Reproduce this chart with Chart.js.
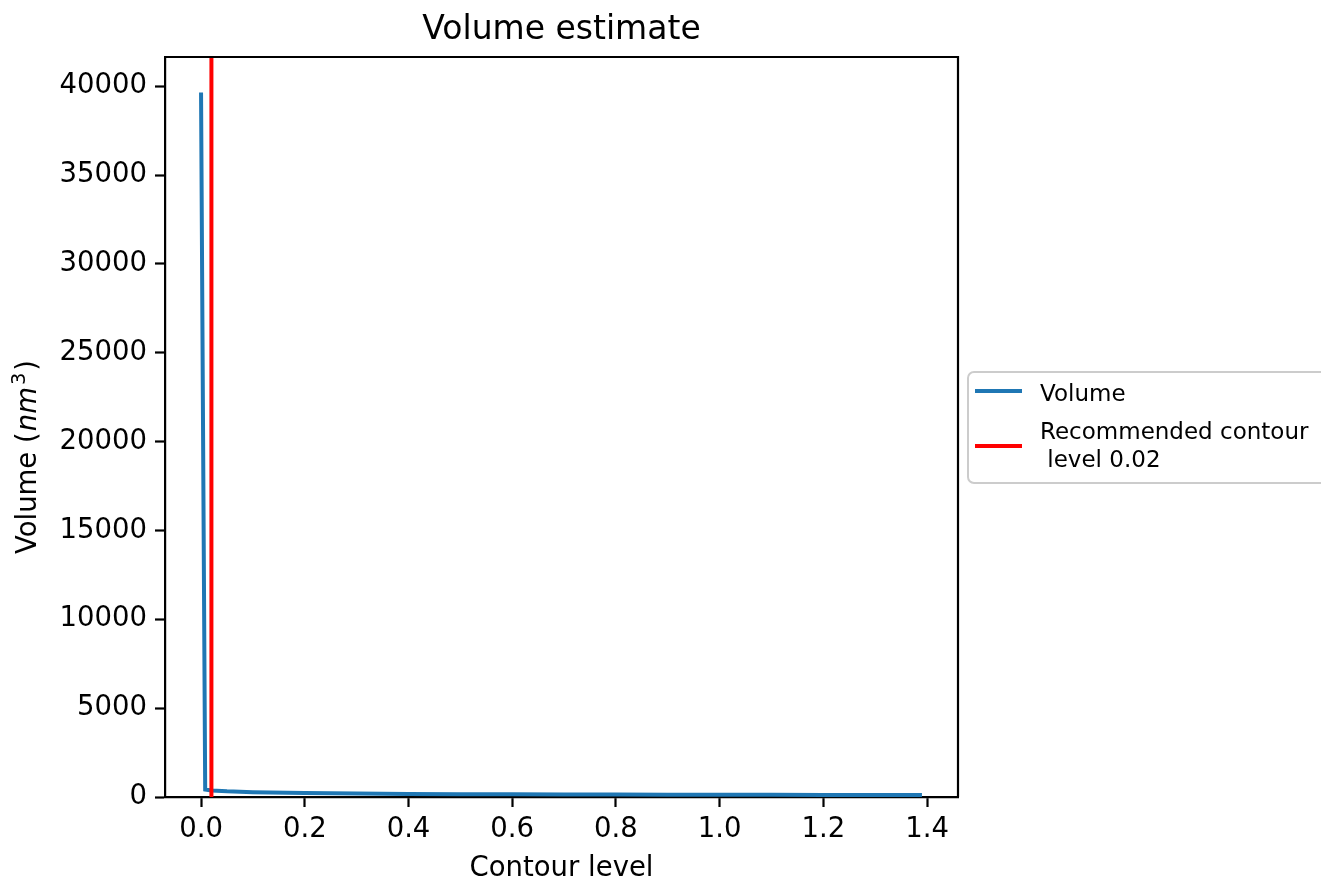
<!DOCTYPE html>
<html>
<head>
<meta charset="utf-8">
<title>Volume estimate</title>
<script src="https://cdn.jsdelivr.net/npm/chart.js@4.4.0/dist/chart.umd.min.js"></script>
<style>
  html, body { margin: 0; padding: 0; background: #fff; }
</style>
</head>
<body>
<canvas id="volumeChart" width="1321" height="880"></canvas>
<script>
// data
const contourLevels = [0, 0.008, 0.02, 0.05, 0.1, 0.2, 0.3, 0.4, 0.5, 0.6, 0.7, 0.8, 0.9, 1.0, 1.1, 1.2, 1.3, 1.39];
const volumes = [39650, 420, 370, 320, 270, 220, 190, 170, 160, 150, 143, 135, 130, 125, 120, 116, 112, 110];
const recommendedLevel = 0.02;
const xTickValues = [0, 0.2, 0.4, 0.6, 0.8, 1.0, 1.2, 1.4];
const yTickValues = [0, 5000, 10000, 15000, 20000, 25000, 30000, 35000, 40000];
const xMin = -0.0695, xMax = 1.4595;
const yMin = 0, yMax = 41650;

const FONT = "'DejaVu Sans', sans-serif";
Chart.defaults.font.family = FONT;
Chart.defaults.color = '#000';

const ctx = document.getElementById('volumeChart').getContext('2d');

// frame, titles and legend the matplotlib way
const decorations = {
  id: 'decorations',
  afterDraw(chart) {
    const c = chart.ctx;
    const area = chart.chartArea;
    c.save();

    // top and right spines
    c.strokeStyle = '#000';
    c.lineWidth = 2.2;
    c.beginPath();
    c.moveTo(area.left, area.top);
    c.lineTo(area.right, area.top);
    c.lineTo(area.right, area.bottom);
    c.stroke();

    c.fillStyle = '#000';
    c.textBaseline = 'alphabetic';

    // title
    c.font = '33px ' + FONT;
    c.textAlign = 'center';
    c.fillText('Volume estimate', (area.left + area.right) / 2, 39);

    // x label
    c.font = '27.5px ' + FONT;
    c.fillText('Contour level', (area.left + area.right) / 2, 876);

    // y label with italic nm and superscript 3
    c.save();
    c.translate(36, 554);
    c.rotate(-Math.PI / 2);
    c.textAlign = 'left';
    let x = 0;
    c.font = '27.5px ' + FONT;
    c.fillText('Volume (', x, 0);
    x += c.measureText('Volume (').width + 1;
    c.font = 'italic 27.5px ' + FONT;
    c.fillText('nm', x, 0);
    x += c.measureText('nm').width + 2;
    c.font = '19.5px ' + FONT;
    c.fillText('3', x, -11);
    x += c.measureText('3').width + 2;
    c.font = '27.5px ' + FONT;
    c.fillText(')', x, 0);
    c.restore();

    // legend box
    c.beginPath();
    c.roundRect(968, 372, 420, 111, 6);
    c.fillStyle = 'rgba(255,255,255,0.8)';
    c.fill();
    c.strokeStyle = '#cccccc';
    c.lineWidth = 2;
    c.stroke();

    const ds = chart.data.datasets;
    const rows = [
      { line: 391, lines: [ds[0].label], base: [400.5] },
      { line: 446, lines: ds[1].label.split('\n'), base: [439, 467] }
    ];
    c.font = '23px ' + FONT;
    c.textAlign = 'left';
    rows.forEach((r, i) => {
      c.strokeStyle = ds[i].borderColor;
      c.lineWidth = 4;
      c.beginPath();
      c.moveTo(975, r.line);
      c.lineTo(1022, r.line);
      c.stroke();
      c.fillStyle = '#000';
      r.lines.forEach((t, k) => c.fillText(t, 1040, r.base[k]));
    });

    c.restore();
  }
};

const chart = new Chart(ctx, {
  type: 'line',
  data: {
    datasets: [
      {
        label: 'Volume',
        data: contourLevels.map((lv, i) => ({ x: lv, y: volumes[i] })),
        borderColor: '#1f77b4',
        borderWidth: 4,
        pointRadius: 0,
        tension: 0,
        order: 1
      },
      {
        label: 'Recommended contour\n level ' + recommendedLevel,
        data: [{ x: recommendedLevel, y: yMin }, { x: recommendedLevel, y: yMax }],
        borderColor: '#ff0000',
        borderWidth: 4,
        pointRadius: 0,
        order: 0
      }
    ]
  },
  options: {
    responsive: false,
    animation: false,
    layout: { padding: { top: 57, right: 363, left: 0, bottom: 0 } },
    plugins: {
      legend: { display: false },
      title: { display: false },
      tooltip: { enabled: false }
    },
    scales: {
      x: {
        type: 'linear',
        min: xMin,
        max: xMax,
        afterBuildTicks: s => { s.ticks = xTickValues.map(v => ({ value: v })); },
        ticks: {
          callback: v => v.toFixed(1),
          font: { size: 27.5 },
          color: '#000',
          padding: 6,
          maxRotation: 0,
          autoSkip: false
        },
        grid: { drawOnChartArea: false, drawTicks: true, tickLength: 10, tickWidth: 2.2, tickColor: '#000' },
        border: { display: true, color: '#000', width: 2.2 },
        afterFit: s => { s.height = 83; }
      },
      y: {
        type: 'linear',
        min: yMin,
        max: yMax,
        afterBuildTicks: s => { s.ticks = yTickValues.map(v => ({ value: v })); },
        ticks: {
          callback: v => String(v),
          font: { size: 27.5 },
          color: '#000',
          padding: 8,
          autoSkip: false
        },
        grid: { drawOnChartArea: false, drawTicks: true, tickLength: 10, tickWidth: 2.2, tickColor: '#000' },
        border: { display: true, color: '#000', width: 2.2 },
        afterFit: s => { s.width = 165; }
      }
    }
  },
  plugins: [decorations]
});
</script>
</body>
</html>
